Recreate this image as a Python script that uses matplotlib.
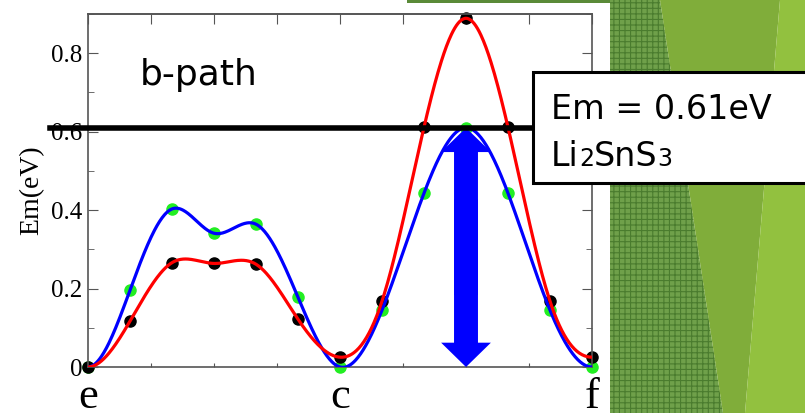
import numpy as np
import matplotlib.pyplot as plt
import matplotlib.patches as mpatches
from matplotlib.ticker import MultipleLocator

# image positions along the path e -> c -> f
X = [0, 0.667, 1.333, 2, 2.667, 3.333, 4, 4.667, 5.333, 6, 6.667, 7.333, 8]
# black points / red curve
Y_RED = [0, 0.117, 0.266, 0.264, 0.262, 0.122, 0.025, 0.168, 0.611, 0.889, 0.611, 0.168, 0.025]
# green points / blue curve
Y_BLUE = [0, 0.196, 0.403, 0.341, 0.364, 0.178, 0.0, 0.145, 0.443, 0.61, 0.443, 0.145, 0.0]

XTICKS = [0, 1, 2, 3, 4, 5, 6, 7, 8]
XLABELS = ['e', '', '', '', 'c', '', '', '', 'f']
YTICKS = [0, 0.2, 0.4, 0.6, 0.8]
YLABELS = ['0', '0.2', '0.4', '0.6', '0.8']
EM = 0.61
ARROW_X = 6

W, H = 805, 413

plt.rcParams['hatch.linewidth'] = 0.8


def px(x, y):
    return (x / W, 1 - y / H)


def spline(x, y, n=600):
    # cubic spline, zero slope at both ends
    x = np.asarray(x, float)
    y = np.asarray(y, float)
    m = len(x)
    h = np.diff(x)
    A = np.zeros((m, m))
    r = np.zeros(m)
    A[0, 0] = 2 * h[0]
    A[0, 1] = h[0]
    r[0] = 3 * (y[1] - y[0]) / h[0]
    A[-1, -2] = h[-1]
    A[-1, -1] = 2 * h[-1]
    r[-1] = -3 * (y[-1] - y[-2]) / h[-1]
    for i in range(1, m - 1):
        A[i, i - 1] = h[i - 1]
        A[i, i] = 2 * (h[i - 1] + h[i])
        A[i, i + 1] = h[i]
        r[i] = 3 * ((y[i + 1] - y[i]) / h[i] - (y[i] - y[i - 1]) / h[i - 1])
    c = np.linalg.solve(A, r)
    b = (y[1:] - y[:-1]) / h - h * (2 * c[:-1] + c[1:]) / 3
    d = (c[1:] - c[:-1]) / (3 * h)
    xs = np.linspace(x[0], x[-1], n)
    k = np.clip(np.searchsorted(x, xs) - 1, 0, m - 2)
    t = xs - x[k]
    return xs, y[k] + b[k] * t + c[k] * t ** 2 + d[k] * t ** 3


fig = plt.figure(figsize=(8.05, 4.13), dpi=100)

# slide background on the right
dark = mpatches.Polygon([px(610, 0), px(660, 0), px(723, 413), px(610, 413)], closed=True,
                        transform=fig.transFigure, facecolor='#6fa04a', edgecolor='#4a7c2e',
                        hatch='+++', lw=0, zorder=-5)
mid = mpatches.Polygon([px(660, 0), px(780, 0), px(745, 413), px(723, 413)], closed=True,
                       transform=fig.transFigure, facecolor='#80ad3a', edgecolor='none', zorder=-5)
light = mpatches.Polygon([px(780, 0), px(805, 0), px(805, 413), px(745, 413)], closed=True,
                         transform=fig.transFigure, facecolor='#92c13f', edgecolor='none', zorder=-5)
strip = mpatches.Rectangle(px(407, 3), 203 / W, 3 / H, transform=fig.transFigure,
                           facecolor='#5a8a38', edgecolor='none', zorder=-5)
for p in (dark, mid, light, strip):
    fig.patches.append(p)

ax = fig.add_axes([88 / W, 1 - 367 / H, (592 - 88) / W, (367 - 14) / H])

xs, ys = spline(X, Y_BLUE)
ax.plot(xs, ys, color='#0000ff', lw=2.3, zorder=3)
xs, ys = spline(X, Y_RED)
ax.plot(xs, ys, color='#ff0000', lw=2.3, zorder=3)
ax.plot(X, Y_BLUE, 'o', color='#22ee22', ms=8, zorder=2, clip_on=False)
ax.plot(X, Y_RED, 'o', color='black', ms=8, zorder=2, clip_on=False)

# barrier line and double arrow
ax.plot([-0.6, 7.2], [EM, EM], color='black', lw=4, zorder=5, clip_on=False)
ax.arrow(ARROW_X, EM * 0.3, 0, EM * 0.7, width=0.38, head_width=0.79, head_length=0.062,
         length_includes_head=True, color='#0000ff', lw=0, zorder=4)
ax.arrow(ARROW_X, EM * 0.7, 0, -EM * 0.7, width=0.38, head_width=0.79, head_length=0.062,
         length_includes_head=True, color='#0000ff', lw=0, zorder=4)

ax.set_xlim(0, 8)
ax.set_ylim(0, 0.9)
ax.set_xticks(XTICKS)
ax.set_xticklabels(XLABELS, family='Liberation Serif', fontsize=32)
ax.set_yticks(YTICKS)
ax.set_yticklabels(YLABELS, family='Liberation Serif', fontsize=18)
ax.yaxis.set_minor_locator(MultipleLocator(0.1))
ax.tick_params(axis='y', which='both', direction='in', left=True, right=True, color='#555555')
ax.tick_params(axis='y', which='major', length=7, pad=4)
ax.tick_params(axis='y', which='minor', length=4.3)
ax.tick_params(axis='x', direction='in', length=3, pad=7, color='#555555')
top = ax.secondary_xaxis('top')
top.set_xticks(XTICKS)
top.set_xticklabels([])
top.tick_params(direction='in', length=7, color='#555555')
top.spines['top'].set_color('#555555')
top.spines['top'].set_linewidth(1.2)
for s in ax.spines.values():
    s.set_color('#555555')
    s.set_linewidth(1.2)
ax.set_ylabel('Em(eV)', family='Liberation Serif', fontsize=20, labelpad=5)

fig.text(140 / W, 1 - 85 / H, 'b-path', fontsize=26, va='baseline', family='DejaVu Sans')

# label box
box = mpatches.Rectangle(px(533, 183), 290 / W, 111 / H, transform=fig.transFigure,
                         facecolor='white', edgecolor='black', lw=2.2, zorder=6)
fig.patches.append(box)
fig.text(551 / W, 1 - 119 / H, 'Em = 0.61eV', fontsize=24, va='baseline', zorder=7)

fig.canvas.draw()
r = fig.canvas.get_renderer()
x0 = 551
for piece, size in [('Li', 24), ('2', 17), ('SnS', 24), ('3', 17)]:
    t = fig.text(x0 / W, 1 - 166 / H, piece, fontsize=size, va='baseline', zorder=7)
    x0 = t.get_window_extent(r).x1

plt.savefig('out.png', dpi=100)
